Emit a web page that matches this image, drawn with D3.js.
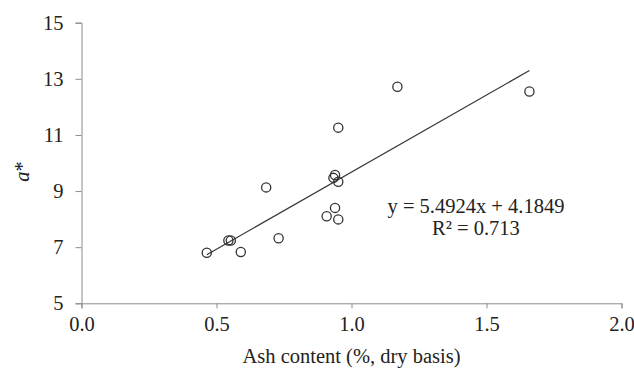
<!DOCTYPE html>
<html>
<head>
<meta charset="utf-8">
<script src="https://cdn.jsdelivr.net/npm/d3@7"></script>
<style>
  body { margin: 0; background: #fff; }
  svg text { font-family: "Times New Roman", "Liberation Serif", Times, serif; fill: #222; }
</style>
</head>
<body>
<script>
// ash content (%, dry basis) and a* values
const ashContent = [0.464, 0.544, 0.553, 0.590, 0.684, 0.730, 0.908, 0.933, 0.939, 0.951, 0.951, 0.939, 0.951, 1.170, 1.659];
const aStar      = [6.80, 7.24, 7.24, 6.83, 9.13, 7.32, 8.10, 9.47, 9.57, 9.33, 11.26, 8.40, 7.99, 12.72, 12.55];
const xTicks = [0, 0.5, 1.0, 1.5, 2.0];
const yTicks = [5, 7, 9, 11, 13, 15];
const slope = 5.4924, intercept = 4.1849;
const eqText = "y = 5.4924x + 4.1849";
const r2Text = "R\u00b2 = 0.713";

const width = 634, height = 374;
const margin = { top: 22.7, right: 12.5, bottom: 70.7, left: 81.5 };
const fontSize = "20.5px";

const svg = d3.select("body").append("svg")
    .attr("width", width)
    .attr("height", height);

const x = d3.scaleLinear().domain([0, 2]).range([margin.left, width - margin.right]);
const y = d3.scaleLinear().domain([5, 15]).range([height - margin.bottom, margin.top]);

// Axes
const xAxis = svg.append("g")
    .attr("transform", `translate(0, ${y(5)})`)
    .call(d3.axisBottom(x).tickValues(xTicks).tickFormat(d3.format(".1f")).tickSize(5).tickPadding(8));

const yAxis = svg.append("g")
    .attr("transform", `translate(${x(0)}, 0)`)
    .call(d3.axisLeft(y).tickValues(yTicks).tickSize(6).tickPadding(12));

[xAxis, yAxis].forEach(g => {
    g.attr("font-family", null).attr("font-size", null);
    g.select(".domain").attr("stroke", "#8c8c8c");
    g.selectAll(".tick line").attr("stroke", "#8c8c8c");
    g.selectAll(".tick text")
        .style("font-size", fontSize)
        .attr("fill", "#222");
});

// Trend line over data range
const [xMin, xMax] = d3.extent(ashContent);
svg.append("line")
    .attr("x1", x(xMin)).attr("y1", y(slope * xMin + intercept))
    .attr("x2", x(xMax)).attr("y2", y(slope * xMax + intercept))
    .attr("stroke", "#333")
    .attr("stroke-width", 1.2);

// Data points
svg.selectAll(".pt")
    .data(ashContent.map((v, i) => ({ ash: v, a: aStar[i] })))
    .enter().append("circle")
    .attr("class", "pt")
    .attr("cx", d => x(d.ash))
    .attr("cy", d => y(d.a))
    .attr("r", 4.6)
    .attr("fill", "none")
    .attr("stroke", "#333")
    .attr("stroke-width", 1.3);

// Equation
svg.append("text")
    .attr("x", 476)
    .attr("y", 213)
    .attr("text-anchor", "middle")
    .style("font-size", fontSize)
    .text(eqText);

svg.append("text")
    .attr("x", 476)
    .attr("y", 235)
    .attr("text-anchor", "middle")
    .style("font-size", fontSize)
    .text(r2Text);

// Axis labels
svg.append("text")
    .attr("x", x(1))
    .attr("y", 363)
    .attr("text-anchor", "middle")
    .style("font-size", fontSize)
    .text("Ash content (%, dry basis)");

svg.append("text")
    .attr("transform", `translate(29, ${y(9.7)}) rotate(-90)`)
    .attr("text-anchor", "middle")
    .style("font-size", fontSize)
    .style("font-style", "italic")
    .text("a")
    .append("tspan")
    .style("font-style", "normal")
    .text("*");
</script>
</body>
</html>
